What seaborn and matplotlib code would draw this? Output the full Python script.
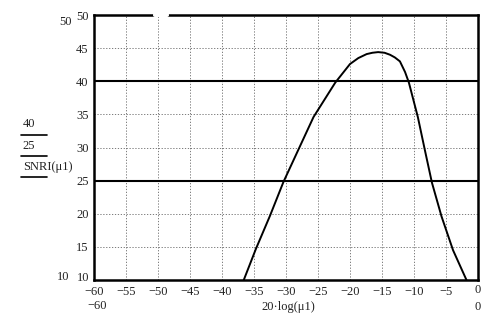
import matplotlib
matplotlib.use("Agg")
import matplotlib.pyplot as plt
import seaborn as sns
import pandas as pd

# SNRI curve: 20*log(mu1) against SNRI(mu1)
x_db = [-36.6, -34.7, -32.5, -30.4, -28.1, -25.7, -22.3, -20.0, -18.7, -17.4,
        -16.5, -15.6, -14.6, -13.75, -13.0, -12.2, -11.4, -10.8, -10.1, -9.4,
        -8.3, -7.2, -5.7, -3.9, -1.8]
snri = [10.0, 14.7, 19.7, 24.8, 29.6, 34.6, 39.8, 42.6, 43.5, 44.1,
        44.3, 44.4, 44.3, 44.0, 43.6, 43.0, 41.4, 39.8, 37.2, 34.6,
        29.6, 24.7, 19.6, 14.5, 10.0]
levels = [40, 25]

x_ticks = [-60, -55, -50, -45, -40, -35, -30, -25, -20, -15, -10, -5, 0]
y_ticks = [10, 15, 20, 25, 30, 35, 40, 45, 50]

sns.set_theme(style="white")
plt.rcParams["font.family"] = ["Liberation Serif", "DejaVu Serif"]

W, H = 490, 326
fig = plt.figure(figsize=(W / 100, H / 100), dpi=100)
ax = fig.add_axes([94 / W, 1 - 280 / H, 384 / W, 265 / H])

df = pd.DataFrame({"x": x_db, "y": snri})
sns.lineplot(data=df, x="x", y="y", ax=ax, color="black", lw=1.4,
             sort=False, estimator=None)
for lv in levels:
    ax.axhline(lv, color="black", lw=1.5)

ax.set_xlim(-60, 0)
ax.set_ylim(10, 50)
ax.set_xticks(x_ticks)
ax.set_yticks(y_ticks)
ax.set_xticklabels(["\u2212%d" % abs(t) if t < 0 else "" for t in x_ticks])
ax.set_yticklabels([str(t) if t > 10 else "" for t in y_ticks])
ax.tick_params(length=0, labelsize=9, colors="#222", pad=4)
ax.grid(True, color="#666", lw=0.6, linestyle=(0, (1.5, 2)))
ax.set_xlabel("")
ax.set_ylabel("")
for s in ax.spines.values():
    s.set_color("black")
    s.set_linewidth(1.8)
# small gap in the top border
ax.plot([-50.4, -48.6], [50, 50], color="white", lw=3, clip_on=False, zorder=5)


def px(x, y, s, **kw):
    fig.text(x / W, 1 - y / H, s, fontsize=9, color="#222",
             ha=kw.pop("ha", "center"), va=kw.pop("va", "center"), **kw)


px(89, 278, "10", ha="right")
px(478, 290, "0")
px(65, 22, "50")
px(63, 277, "10")
px(97, 306, "\u221260")
px(478, 307, "0")
px(288, 307, "20\u00b7log(\u03bc1)")

# left-hand legend stack
px(29, 124, "40")
px(29, 146, "25")
px(23, 167, "SNRI(\u03bc1)", ha="left")
for yy in (135, 156, 177):
    fig.add_artist(plt.Line2D([21 / W, 47 / W], [1 - yy / H, 1 - yy / H],
                              color="black", lw=1.2))

fig.savefig("out.png", dpi=100)
